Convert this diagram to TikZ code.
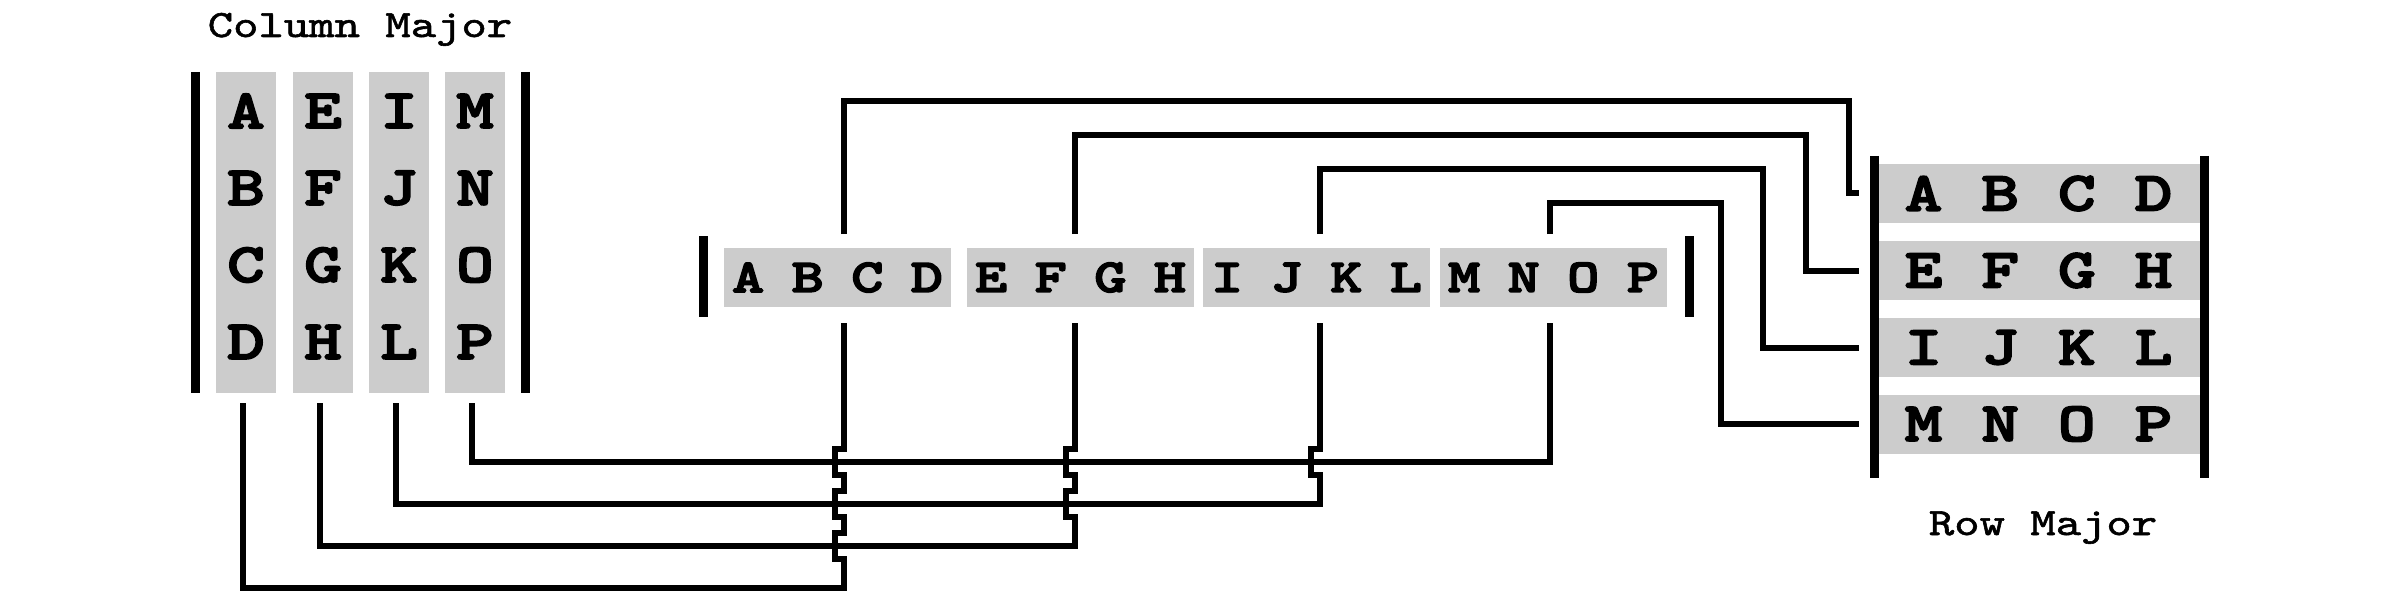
\documentclass[tikz,border=0pt]{standalone}
\usepackage{fontspec}
\newfontfamily\cellfont{lmmonolt10-bold.otf}[FakeStretch=1.3, FakeBold=3]
\newfontfamily\titlefont{lmmono10-regular.otf}[FakeStretch=1.25, FakeBold=1.5]

\tikzset{
    bigcell/.style={font=\cellfont\fontsize{15.8}{16}\selectfont, inner sep=0pt},
    smallcell/.style={font=\cellfont\fontsize{13.5}{14}\selectfont, inner sep=0pt},
    title/.style={font=\titlefont\fontsize{11}{12}\selectfont, inner sep=0pt, anchor=base},
    shade/.style={fill=black!20, inner sep=0pt, outer sep=0pt},
    bar/.style={line width=0.9mm},
    wire/.style={line width=0.6mm},
}
% small jog where a wire crosses another one
\newcommand{\hop}[2]{-- (#1 |- 0,#2+13) -- ++(-9,0) -- ++(0,-26) -- ++(9,0)}

\begin{document}
\begin{tikzpicture}[x=0.1mm,y=-0.1mm]
    \useasboundingbox (0,0) rectangle (2400,603);

    % column major
    \node[title] (colmajor) at (360,37) {Column Major};
    \node[shade, minimum width=6mm, minimum height=32.1mm] (cA) at (246,232.5) {};
    \node[shade, minimum width=6mm, minimum height=32.1mm] (cE) at (323,232.5) {};
    \node[shade, minimum width=6mm, minimum height=32.1mm] (cI) at (399,232.5) {};
    \node[shade, minimum width=6mm, minimum height=32.1mm] (cM) at (475,232.5) {};
    \draw[bar] (195.5,72) -- (195.5,393);
    \draw[bar] (525.5,72) -- (525.5,393);

    \node[bigcell] (ca) at (246,111) {A};
    \node[bigcell] (cb) at (246,188) {B};
    \node[bigcell] (cc) at (246,265) {C};
    \node[bigcell] (cd) at (246,342) {D};
    \node[bigcell] (ce) at (323,111) {E};
    \node[bigcell] (cf) at (323,188) {F};
    \node[bigcell] (cg) at (323,265) {G};
    \node[bigcell] (ch) at (323,342) {H};
    \node[bigcell] (ci) at (399,111) {I};
    \node[bigcell] (cj) at (399,188) {J};
    \node[bigcell] (ck) at (399,265) {K};
    \node[bigcell] (cl) at (399,342) {L};
    \node[bigcell] (cm) at (475,111) {M};
    \node[bigcell] (cn) at (475,188) {N};
    \node[bigcell] (co) at (475,265) {O};
    \node[bigcell] (cp) at (475,342) {P};

    % memory strip
    \node[shade, minimum width=22.7mm, minimum height=5.9mm] (sA) at (837.5,277.5) {};
    \node[shade, minimum width=22.7mm, minimum height=5.9mm] (sE) at (1080.5,277.5) {};
    \node[shade, minimum width=22.7mm, minimum height=5.9mm] (sI) at (1316.5,277.5) {};
    \node[shade, minimum width=22.7mm, minimum height=5.9mm] (sM) at (1553.5,277.5) {};
    \draw[bar] (703.5,236) -- (703.5,317);
    \draw[bar] (1689.5,236) -- (1689.5,317);
    % where the wires meet the strip
    \coordinate (pA) at (843.5,277.5);
    \coordinate (pE) at (1074.5,277.5);
    \coordinate (pI) at (1320,277.5);
    \coordinate (pM) at (1550,277.5);

    \node[smallcell] (sa) at (748.1,277.5) {A};
    \node[smallcell] (sb) at (807.7,277.5) {B};
    \node[smallcell] (sc) at (867.3,277.5) {C};
    \node[smallcell] (sd) at (926.9,277.5) {D};
    \node[smallcell] (se) at (991.1,277.5) {E};
    \node[smallcell] (sf) at (1050.7,277.5) {F};
    \node[smallcell] (sg) at (1110.3,277.5) {G};
    \node[smallcell] (sh) at (1169.9,277.5) {H};
    \node[smallcell] (si) at (1227.1,277.5) {I};
    \node[smallcell] (sj) at (1286.7,277.5) {J};
    \node[smallcell] (sk) at (1346.3,277.5) {K};
    \node[smallcell] (sl) at (1405.9,277.5) {L};
    \node[smallcell] (sm) at (1464.1,277.5) {M};
    \node[smallcell] (sn) at (1523.7,277.5) {N};
    \node[smallcell] (so) at (1583.3,277.5) {O};
    \node[smallcell] (sp) at (1642.9,277.5) {P};

    % row major
    \node[shade, minimum width=32.1mm, minimum height=5.9mm] (rA) at (2039.5,193.5) {};
    \node[shade, minimum width=32.1mm, minimum height=5.9mm] (rE) at (2039.5,270.5) {};
    \node[shade, minimum width=32.1mm, minimum height=5.9mm] (rI) at (2039.5,347.5) {};
    \node[shade, minimum width=32.1mm, minimum height=5.9mm] (rM) at (2039.5,424) {};
    \draw[bar] (1874.5,156) -- (1874.5,478);
    \draw[bar] (2204.5,156) -- (2204.5,478);
    \node[title] (rowmajor) at (2043,535) {Row Major};

    \node[bigcell] (ra) at (1923.5,193.5) {A};
    \node[bigcell] (rb) at (2000.2,193.5) {B};
    \node[bigcell] (rc) at (2076.8,193.5) {C};
    \node[bigcell] (rd) at (2153.5,193.5) {D};
    \node[bigcell] (re) at (1923.5,270.5) {E};
    \node[bigcell] (rf) at (2000.2,270.5) {F};
    \node[bigcell] (rg) at (2076.8,270.5) {G};
    \node[bigcell] (rh) at (2153.5,270.5) {H};
    \node[bigcell] (ri) at (1923.5,347.5) {I};
    \node[bigcell] (rj) at (2000.2,347.5) {J};
    \node[bigcell] (rk) at (2076.8,347.5) {K};
    \node[bigcell] (rl) at (2153.5,347.5) {L};
    \node[bigcell] (rm) at (1923.5,424) {M};
    \node[bigcell] (rn) at (2000.2,424) {N};
    \node[bigcell] (ro) at (2076.8,424) {O};
    \node[bigcell] (rp) at (2153.5,424) {P};

    % strip to rows
    \draw[wire, shorten <=1.4mm, shorten >=2mm] (pA |- sA.north) |- (1849,101) |- (rA.west);
    \draw[wire, shorten <=1.4mm, shorten >=2mm] (pE |- sE.north) |- (1806,135) |- (rE.west);
    \draw[wire, shorten <=1.4mm, shorten >=2mm] (pI |- sI.north) |- (1763,169) |- (rI.west);
    \draw[wire, shorten <=1.4mm, shorten >=2mm] (pM |- sM.north) |- (1721,203) |- (rM.west);

    % columns to strip
    \draw[wire, shorten <=1mm, shorten >=1.6mm] ([xshift=-0.3mm]cM.south) |- (pM |- 0,462)
        -- (pM |- sM.south);
    \draw[wire, shorten <=1mm, shorten >=1.6mm] ([xshift=-0.3mm]cI.south) |- (pI |- 0,504)
        \hop{pI}{462} -- (pI |- sI.south);
    \draw[wire, shorten <=1mm, shorten >=1.6mm] ([xshift=-0.3mm]cE.south) |- (pE |- 0,546)
        \hop{pE}{504} \hop{pE}{462} -- (pE |- sE.south);
    \draw[wire, shorten <=1mm, shorten >=1.6mm] ([xshift=-0.3mm]cA.south) |- (pA |- 0,588)
        \hop{pA}{546} \hop{pA}{504} \hop{pA}{462} -- (pA |- sA.south);
\end{tikzpicture}
\end{document}
